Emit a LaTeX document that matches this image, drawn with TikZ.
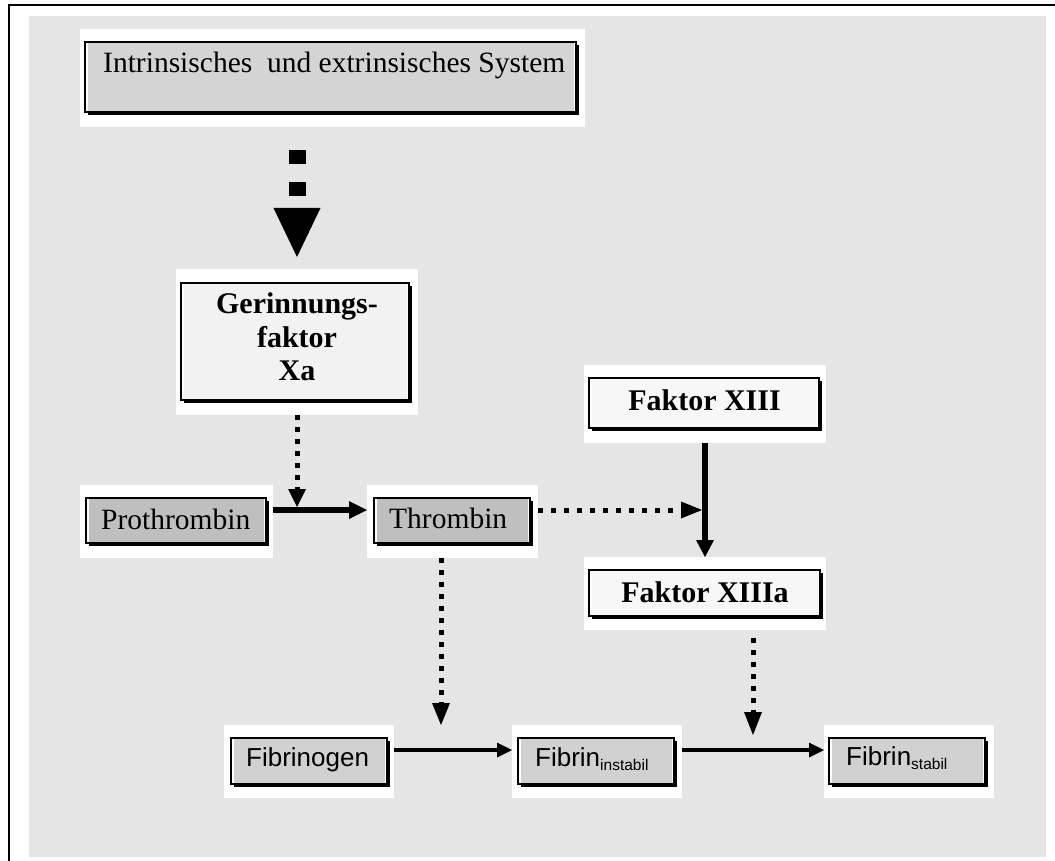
\documentclass[tikz,border=0pt]{standalone}
\usepackage{fontspec}
\setmainfont{Liberation Serif}
\newfontfamily\sansf{Liberation Sans}
\usetikzlibrary{arrows.meta,shadows,fit,calc}
\tikzset{
  pad/.style={fill=white, draw=none, inner sep=0pt, outer sep=0pt, rectangle},
  inbox/.style={draw=black, line width=1.8pt, fill=white, inner sep=0pt, outer sep=0pt, rectangle,
    drop shadow={shadow xshift=3pt, shadow yshift=-3pt, fill=black, opacity=1},
    path picture={\fill[#1] ([xshift=3pt]path picture bounding box.north west) rectangle ([xshift=-2.5pt]path picture bounding box.south east);}},
  serifreg/.style={inner sep=0pt, font=\fontsize{29.5}{34}\selectfont},
  serifbold/.style={inner sep=0pt, font=\fontsize{30}{34}\selectfont\bfseries},
  sansreg/.style={inner sep=0pt, font=\sansf\fontsize{26}{30}\selectfont},
  dotline/.style={line width=5pt, dash pattern=on 5pt off 7pt},
}
\newcommand\subtx[1]{\raisebox{-4.5pt}{\fontsize{15.5}{18}\selectfont #1}}
\begin{document}
\begin{tikzpicture}[x=1pt,y=-1pt]
\useasboundingbox (0,0) rectangle (1055,861);
% background
\fill[black!10] (29,16) rectangle (1046,857);
\draw[line width=2pt] (9,861) -- (9,5) -- (1055,5);

% pads
\node[pad, fit={(80,29) (585,127)}] (sys) {};
\node[pad, fit={(176,269) (418,415)}] (ger) {};
\node[pad, fit={(80,485) (273,558)}] (pro) {};
\node[pad, fit={(367,485) (538,558)}] (thr) {};
\node[pad, fit={(584,365) (826,443)}] (f13) {};
\node[pad, fit={(584,557) (826,630)}] (f13a) {};
\node[pad, fit={(224,725) (394,798)}] (fbg) {};
\node[pad, fit={(512,725) (682,798)}] (fbi) {};
\node[pad, fit={(824,725) (994,798)}] (fbs) {};

% inner boxes
\node[inbox=black!17, fit={(85,42) (576,112)}] (sysb) {};
\node[inbox=black!5, fit={(181,283) (409,400)}] (gerb) {};
\node[inbox=black!25, fit={(86,498) (266,543)}] (prob) {};
\node[inbox=black!25, fit={(374,498) (530,543)}] (thrb) {};
\node[inbox=black!3, fit={(589,378) (819,428)}] (f13b) {};
\node[inbox=black!3, fit={(589,570) (820,616)}] (f13ab) {};
\node[inbox=black!18, fit={(231,738) (387,784)}] (fbgb) {};
\node[inbox=black!18, fit={(518,738) (674,784)}] (fbib) {};
\node[inbox=black!18, fit={(829,738) (985,784)}] (fbsb) {};

% texts
\node[serifreg, anchor=base west] (tsys) at (103,73) {Intrinsisches\ \ und extrinsisches System};
\node[serifbold, anchor=base] (tg1) at (297,313) {Gerinnungs-};
\node[serifbold, anchor=base] (tg2) at (297,347) {faktor};
\node[serifbold, anchor=base] (tg3) at (297,380) {Xa};
\node[serifreg, anchor=base west] (tpro) at (101,529) {Prothrombin};
\node[serifreg, anchor=base west] (tthr) at (389,528) {Thrombin};
\node[serifbold, anchor=base] (tf13) at (704.5,410) {Faktor XIII};
\node[serifbold, anchor=base] (tf13a) at (705,602) {Faktor XIIIa};
\node[sansreg, anchor=base west] (tfbg) at (246,766) {Fibrinogen};
\node[sansreg, anchor=base west] (tfbi) at (535,766) {Fibrin\subtx{instabil}};
\node[sansreg, anchor=base west] (tfbs) at (846,765) {Fibrin\subtx{stabil}};

% junction coordinates
\coordinate (m1) at (297,510);
\coordinate (t1) at (297,507);
\coordinate (t4) at (702,510);
\coordinate (t2) at (441,725);
\coordinate (t3) at (753,735);
\coordinate (b1) at (441,750);

% connectors
\draw[line width=17pt, dash pattern=on 14pt off 18pt, shorten <=23pt, shorten >=12pt,
      -{Triangle[width=47pt,length=49pt,line width=0pt]}] (ger.north |- sys.south) -- (ger.north);
\draw[dotline, -{Triangle[width=18pt,length=18pt,line width=0pt]}] (ger.south) -- (t1);
\draw[line width=6pt, -{Triangle[width=18pt,length=18pt,line width=0pt]}] (pro.east |- m1) -- (thr.west |- m1);
\draw[dotline, dash pattern=on 5pt off 8pt, -{Triangle[width=17pt,length=21pt,line width=0pt]}] (thr.east |- m1) -- (t4);
\draw[line width=6pt, -{Triangle[width=18pt,length=17pt,line width=0pt]}] (f13.south) -- (f13a.north);
\draw[dotline, -{Triangle[width=18pt,length=22pt,line width=0pt]}] (t2 |- thr.south) -- (t2);
\draw[dotline, shorten <=8pt, -{Triangle[width=18pt,length=23pt,line width=0pt]}] (t3 |- f13a.south) -- (t3);
\draw[line width=4pt, -{Triangle[width=15pt,length=15pt,line width=0pt]}] (fbg.east |- b1) -- (fbi.west |- b1);
\draw[line width=4pt, -{Triangle[width=15pt,length=15pt,line width=0pt]}] (fbi.east |- b1) -- (fbs.west |- b1);
\end{tikzpicture}
\end{document}
